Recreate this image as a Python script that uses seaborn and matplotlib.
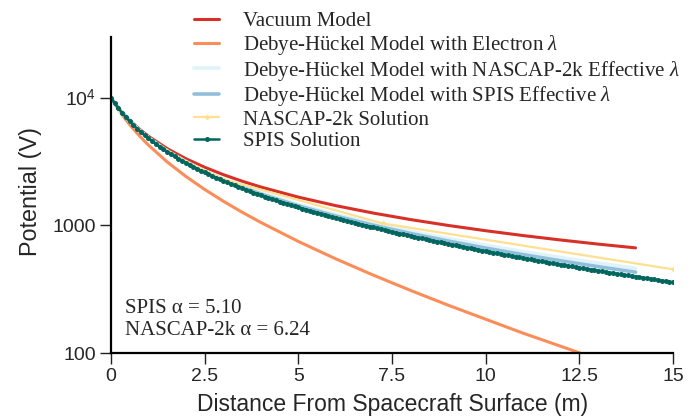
import numpy as np
import pandas as pd
import matplotlib
matplotlib.use("Agg")
import matplotlib.pyplot as plt
import seaborn as sns

# ---------------- data ----------------
dist_models = [0, 0.25, 0.5, 0.75, 1, 1.5, 2, 2.5, 3, 3.5, 4, 5, 6, 7, 8, 9, 10, 11, 12, 13, 14]
vacuum = [10000, 8000, 6667, 5714, 5000, 4000, 3333, 2857, 2500, 2222, 2000, 1667, 1429,
          1250, 1111, 1000, 909, 833, 769, 714, 667]
electron_dh = [10000, 7686, 6154, 5068, 4261, 3146, 2420, 1915, 1547, 1269, 1055, 749, 547,
               408, 309, 237, 184, 143, 113, 89.2, 71.0]
nascap_dh = [10000, 7947, 6579, 5602, 4870, 3845, 3162, 2675, 2310, 2026, 1800, 1461, 1220,
             1039, 899.7, 788.6, 698.3, 623.4, 560.5, 506.9, 460.8]
spis_dh = [10000, 7938, 6563, 5581, 4846, 3816, 3131, 2642, 2276, 1991, 1764, 1425, 1184,
           1004, 864.8, 754.3, 664.6, 590.4, 528.2, 475.4, 430.0]

nascap_x = [0, 0.25, 0.5, 1.0, 1.5, 2.0, 3.0, 7.26, 15.0]
nascap_sol = [10000, 7947, 6579, 4870, 3845, 3162, 2300, 1036, 453]

spis_x = np.round(np.arange(0, 15.01, 0.1), 1)
spis_sol = [10000, 9057, 8272, 7607, 7038, 6544, 6113, 5732, 5393, 5091,
            4818, 4572, 4348, 4143, 3956, 3784, 3625, 3478, 3341, 3214,
            3095, 2984, 2881, 2783, 2691, 2604, 2523, 2446, 2372, 2303,
            2237, 2174, 2115, 2058, 2004, 1952, 1903, 1855, 1810, 1766,
            1725, 1685, 1646, 1609, 1573, 1539, 1506, 1474, 1443, 1414,
            1385, 1357, 1330, 1304, 1279, 1255, 1231, 1208, 1186, 1165,
            1144, 1124, 1104, 1085, 1066, 1048, 1030, 1013, 996.7, 980.3,
            964.5, 949.1, 934.0, 919.4, 905.1, 891.1, 877.5, 864.2, 851.3, 838.6,
            826.2, 814.1, 802.3, 790.7, 779.4, 768.3, 757.5, 746.9, 736.6, 726.5,
            716.5, 706.8, 697.3, 688.0, 678.8, 669.9, 661.1, 652.5, 644.1, 635.8,
            627.7, 619.7, 612.0, 604.3, 596.8, 589.4, 582.2, 575.0, 568.1, 561.2,
            554.5, 547.8, 541.4, 535.0, 528.7, 522.5, 516.5, 510.5, 504.7, 498.9,
            493.2, 487.7, 482.2, 476.8, 471.5, 466.2, 461.1, 456.0, 451.0, 446.1,
            441.3, 436.6, 431.9, 427.3, 422.7, 418.3, 413.9, 409.6, 405.3, 401.0,
            396.9, 392.9, 388.8, 384.8, 381.0, 377.1, 373.3, 369.5, 365.8, 362.2,
            358.6]

labels = ["Vacuum Model",
          r"Debye-Hückel Model with Electron $\lambda$",
          r"Debye-Hückel Model with NASCAP-2k Effective $\lambda$",
          r"Debye-Hückel Model with SPIS Effective $\lambda$",
          "NASCAP-2k Solution",
          "SPIS Solution"]
colors = ["#d73027", "#fc8d59", "#e0f3f8", "#91bfdb", "#fee090", "#01665e"]

x_ticks = [0, 2.5, 5, 7.5, 10, 12.5, 15]
x_ticklabels = ["0", "2.5", "5", "7.5", "10", "12.5", "15"]
y_ticks = [100, 1000, 10000]
y_ticklabels = ["100", "1000", r"$10^4$"]

# ---------------- style ----------------
sns.set_style("ticks")
plt.rcParams["font.family"] = ["Liberation Sans", "DejaVu Sans"]
plt.rcParams["mathtext.fontset"] = "custom"
plt.rcParams["mathtext.rm"] = "Liberation Sans"
plt.rcParams["mathtext.it"] = "Liberation Serif:italic"

fig = plt.figure(figsize=(6.93, 4.17), dpi=100)
ax = fig.add_axes([111 / 693, 1 - 353 / 417, 562 / 693, 316 / 417])

sns.lineplot(x=dist_models, y=vacuum, ax=ax, color=colors[0], linewidth=2.2,
             label=labels[0], estimator=None, sort=False)
sns.lineplot(x=dist_models, y=electron_dh, ax=ax, color=colors[1], linewidth=2.2,
             label=labels[1], estimator=None, sort=False)
sns.lineplot(x=dist_models, y=nascap_dh, ax=ax, color=colors[2], linewidth=2.6,
             label=labels[2], estimator=None, sort=False)
sns.lineplot(x=dist_models, y=spis_dh, ax=ax, color=colors[3], linewidth=2.6,
             label=labels[3], estimator=None, sort=False)
sns.lineplot(x=nascap_x, y=nascap_sol, ax=ax, color=colors[4], linewidth=1.6,
             marker="D", markersize=3, markeredgewidth=0, label=labels[4],
             estimator=None, sort=False)
sns.lineplot(x=spis_x, y=spis_sol, ax=ax, color=colors[5], linewidth=1.8,
             marker="o", markersize=3.6, markeredgewidth=0, label=labels[5],
             estimator=None, sort=False)

ax.set_yscale("log")
ax.set_xlim(0, 15)
ax.set_ylim(100, 30000)
ax.set_xticks(x_ticks)
ax.set_xticklabels(x_ticklabels)
ax.set_yticks(y_ticks)
ax.set_yticklabels(y_ticklabels)
ax.yaxis.set_minor_locator(matplotlib.ticker.NullLocator())
ax.tick_params(axis="both", which="major", labelsize=14, length=7.8, width=1,
               direction="out", pad=3, color="#222222")
for s in ["top", "right"]:
    ax.spines[s].set_visible(False)
for s in ["left", "bottom"]:
    ax.spines[s].set_linewidth(1.6)
    ax.spines[s].set_color("black")

ax.set_xlabel("Distance From Spacecraft Surface (m)", fontsize=16.5)
ax.set_ylabel("Potential (V)", fontsize=16.8)
ax.xaxis.set_label_coords(0.501, -0.125)
ax.yaxis.set_label_coords(-0.122, 0.511)

leg = ax.legend(loc="upper left", bbox_to_anchor=(0.148, 1.08), frameon=False,
                prop={"family": "Liberation Serif", "size": 15},
                handlelength=1.2, handletextpad=1.15, labelspacing=0.08,
                borderpad=0, borderaxespad=0)

ax.text(0.025, 0.142, "SPIS α = 5.10", transform=ax.transAxes,
        family="Liberation Serif", fontsize=15, va="center", ha="left")
ax.text(0.025, 0.071, "NASCAP-2k α = 6.24", transform=ax.transAxes,
        family="Liberation Serif", fontsize=15, va="center", ha="left")

fig.savefig("out.png", dpi=100)
